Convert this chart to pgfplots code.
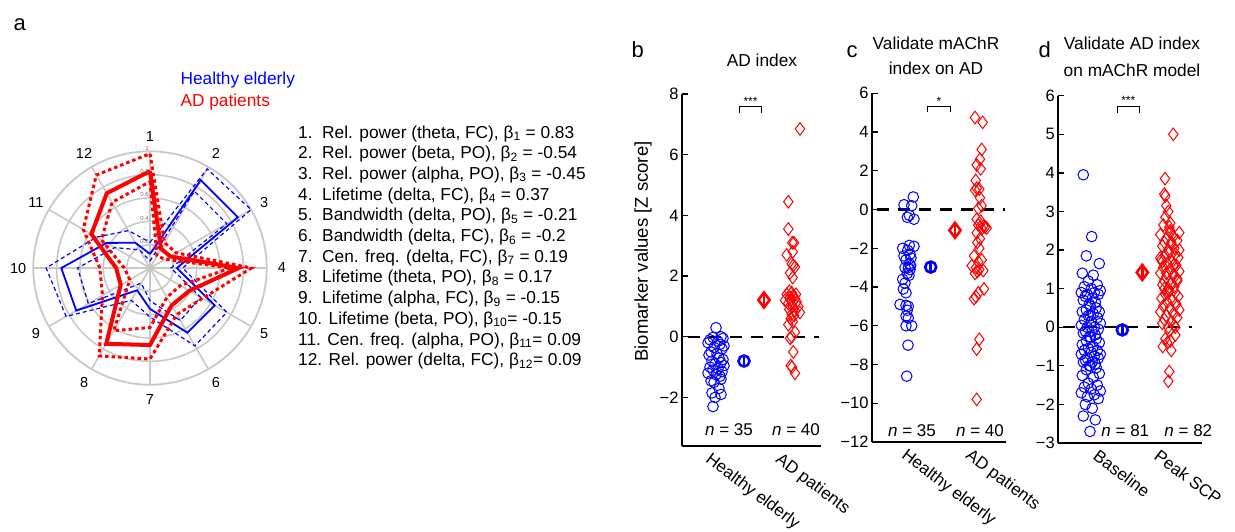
\documentclass[border=0pt]{standalone}
\usepackage{fontspec}
\setmainfont{Liberation Sans}
\usepackage{pgfplots}
\pgfplotsset{compat=1.18}
\usepgfplotslibrary{polar}
\definecolor{gridgray}{RGB}{200,200,200}
\definecolor{ringlab}{RGB}{110,110,110}
\pgfplotsset{
 scat/.style={
  scale only axis, clip=false,
  axis lines*=left,
  axis line style={line width=2.2pt,-},
  tick align=inside,
  major tick length=6pt,
  ytick style={line width=1.3pt, black},
  xtick style={draw=none},
  xticklabel style={rotate=-37, anchor=north west, font=\fontsize{17}{17}\selectfont, inner sep=1pt, yshift=-5pt},
  yticklabel style={font=\fontsize{16.5}{16.5}\selectfont, xshift=0pt},
 },
 hmark/.style={only marks, mark=o, blue, mark size=5.3pt, mark options={line width=1pt}},
 amark/.style={only marks, mark=diamond, red, mark size=6.3pt, mark options={line width=1pt}},
 hmean/.style={only marks, mark=o, blue, mark size=5.5pt, mark options={line width=2.6pt},
   error bars/.cd, y dir=both, y explicit, error mark=none, error bar style={line width=2.6pt, blue}},
 amean/.style={only marks, mark=diamond, red, mark size=7.5pt, mark options={line width=2.6pt},
   error bars/.cd, y dir=both, y explicit, error mark=none, error bar style={line width=2.6pt, red}},
 zline/.style={black, line width=2.2pt, dash pattern=on 12pt off 9pt},
}
\newcommand{\nfont}{\fontsize{17}{17}\selectfont}
\newcommand{\lfont}{\fontsize{17.3}{20.7}\selectfont}
\begin{document}
\begin{tikzpicture}[x=1pt,y=1pt]
\path[use as bounding box] (0,0) rectangle (1235,-531);

% ---------------- panel a ----------------
\node[anchor=base west, font=\fontsize{22}{22}\selectfont] at (10,-30) {a};
\node[anchor=base west, font=\lfont, text=blue] at (177,-84) {Healthy elderly};
\node[anchor=base west, font=\lfont, text=red] at (177,-106) {AD patients};

\begin{polaraxis}[
 scale only axis, width=233.4pt, height=233.4pt,
 at={(150pt,-268pt)}, anchor=center,
 ymin=0, ymax=1,
 xtick={0,30,...,330}, xticklabels={},
 ytick={0.2,0.4,0.6,0.8}, yticklabels={},
 grid=major, major grid style={draw=gridgray, line width=1.6pt},
 axis line style={draw=gridgray, line width=1.8pt},
 major tick length=0pt,
 clip=false,
]
% blue: healthy elderly
\addplot[blue, line width=1.2pt, dash pattern=on 4pt off 3pt] coordinates {
 (90,0.22) (60,0.98) (30,1.00) (0,0.28) (330,0.76) (300,0.77) (270,0.42) (240,0.32) (210,0.83) (180,0.89) (150,0.53) (120,0.37) (90,0.22)};
\addplot[blue, line width=1.2pt, dash pattern=on 4pt off 3pt] coordinates {
 (90,0.06) (60,0.76) (30,0.76) (0,0.18) (330,0.50) (300,0.52) (270,0.28) (240,0.15) (210,0.61) (180,0.62) (150,0.35) (120,0.18) (90,0.06)};
\addplot[blue, line width=1.8pt] coordinates {
 (90,0.12) (60,0.87) (30,0.87) (0,0.23) (330,0.64) (300,0.64) (270,0.35) (240,0.22) (210,0.73) (180,0.76) (150,0.43) (120,0.25) (90,0.12)};
% red: AD patients
\addplot[red, line width=3pt, dash pattern=on 3.5pt off 3pt] coordinates {
 (90,0.98) (60,0.25) (30,0.26) (0,0.87) (330,0.52) (300,0.46) (270,0.78) (240,0.87) (210,0.47) (180,0.43) (150,0.66) (120,0.92) (90,0.98)};
\addplot[red, line width=3pt, dash pattern=on 3.5pt off 3pt] coordinates {
 (90,0.74) (60,0.12) (30,0.15) (0,0.69) (330,0.30) (300,0.29) (270,0.51) (240,0.62) (210,0.20) (180,0.22) (150,0.48) (120,0.65) (90,0.74)};
\addplot[red, line width=4pt] coordinates {
 (90,0.83) (60,0.19) (30,0.20) (0,0.76) (330,0.39) (300,0.37) (270,0.66) (240,0.75) (210,0.29) (180,0.29) (150,0.58) (120,0.74) (90,0.83)};
% ring labels
\foreach \r/\t in {0.2/0.2,0.4/0.4,0.6/0.6,0.8/0.8,1/1}{
 \edef\tmp{\noexpand\node[anchor=south east, inner sep=1pt, font=\noexpand\fontsize{6}{6}\noexpand\selectfont, text=ringlab] at (axis cs:90,\r) {\t};}\tmp
}
% spoke labels
\foreach \a/\t in {90/1,60/2,30/3,0/4,330/5,300/6,270/7,240/8,210/9,180/10,150/11,120/12}{
 \edef\tmp{\noexpand\node[font=\noexpand\fontsize{14.5}{14.5}\noexpand\selectfont] at (axis cs:\a,1.13) {\t};}\tmp
}
\end{polaraxis}

% list of features
\foreach \i/\t in {
 1/{1.\ \ Rel. power (theta, FC), β\textsubscript{1} = 0.83},
 2/{2.\ \ Rel. power (beta, PO), β\textsubscript{2} = -0.54},
 3/{3.\ \ Rel. power (alpha, PO), β\textsubscript{3} = -0.45},
 4/{4.\ \ Lifetime (delta, FC), β\textsubscript{4} = 0.37},
 5/{5.\ \ Bandwidth (delta, PO), β\textsubscript{5} = -0.21},
 6/{6.\ \ Bandwidth (delta, FC), β\textsubscript{6} = -0.2},
 7/{7.\ \ Cen. freq. (delta, FC), β\textsubscript{7} = 0.19},
 8/{8.\ \ Lifetime (theta, PO), β\textsubscript{8} = 0.17},
 9/{9.\ \ Lifetime (alpha, FC), β\textsubscript{9} = -0.15},
 10/{10. Lifetime (beta, PO), β\textsubscript{10}= -0.15},
 11/{11. Cen. freq. (alpha, PO), β\textsubscript{11}= 0.09},
 12/{12. Rel. power (delta, FC), β\textsubscript{12}= 0.09}}{
 \node[anchor=base west, font=\lfont, inner sep=0pt] at (298,{-138-20.7*(\i-1)}) {\t};
}

% ---------------- panel b ----------------
\node[anchor=base west, font=\fontsize{22}{22}\selectfont] at (628,-57) {b};
\node[anchor=base, font=\lfont] at (762,-66) {AD index};
\node[rotate=90, font=\fontsize{18.5}{18.5}\selectfont] at (643,-251.5) {Biomarker values [Z score]};
\begin{axis}[scat, width=139pt, height=352pt, at={(682pt,-446pt)}, anchor=south west,
 xmin=0, xmax=139, ymin=-3.6, ymax=8,
 ytick={-2,0,2,4,6,8}, yticklabels={−2,0,2,4,6,8},
 xtick={33,103}, xticklabels={Healthy elderly, AD patients}]
\addplot[zline] coordinates {(6,0) (137,0)};
\addplot[hmark] coordinates {
 (34,0.3) (39,0.0) (31,-0.02) (41,-0.05) (28,-0.1) (36,-0.15) (26,-0.2) (38,-0.25) (42,-0.3) (32,-0.35)
 (40,-0.4) (29,-0.5) (35,-0.55) (27,-0.6) (37,-0.7) (41,-0.75) (30,-0.8) (39,-0.85) (33,-0.9) (42,-0.95)
 (28,-1.0) (36,-1.05) (31,-1.1) (40,-1.15) (26,-1.2) (34,-1.25) (38,-1.3) (39,-1.4) (29,-1.45) (32,-1.5)
 (37,-1.7) (30,-1.85) (39,-1.9) (33,-2.0) (31,-2.3)};
\addplot[amark] coordinates {
 (118,6.85) (106.3,4.45) (106.3,3.55) (110.3,3.1) (112,3.1) (110.7,2.8) (104.7,2.7) (109.7,2.4) (111.3,2.35) (113,2.3)
 (108,2.1) (110.7,1.95) (107.3,1.5) (109.7,1.45) (104.7,1.4) (114,1.4) (111.3,1.35) (108,1.3) (113,1.25) (103,1.2)
 (108.7,1.2) (114.7,1.15) (106.3,1.1) (110.7,1.0) (116.3,1.0) (107.3,0.9) (113,0.85) (118,0.8) (109.7,0.75) (112,0.7)
 (108.7,0.6) (106.3,0.4) (113,0.15) (109.7,0.0) (108,-0.05) (111.3,-0.5) (108.7,-0.95) (110,-1.0) (113,-1.2) (110.7,0.5)};
\addplot[hmean] coordinates {(62,-0.8) +- (0,0.2)};
\addplot[amean] coordinates {(82,1.21) +- (0,0.26)};
\draw[line width=0.9pt] (axis cs:57.3,7.39) -- (axis cs:57.3,7.59) -- (axis cs:79.7,7.59) -- (axis cs:79.7,7.39);
\node[anchor=base, inner sep=0pt, font=\fontsize{12}{12}\selectfont] at (axis cs:68.5,7.62) {***};
\node[font=\nfont] at (axis cs:47,-3.07) {\textit{n} = 35};
\node[font=\nfont] at (axis cs:114,-3.07) {\textit{n} = 40};
\end{axis}

% ---------------- panel c ----------------
\node[anchor=base west, font=\fontsize{22}{22}\selectfont] at (843,-57) {c};
\node[anchor=base, font=\lfont] at (936,-49) {Validate mAChR};
\node[anchor=base, font=\lfont] at (936,-74) {index on AD};
\begin{axis}[scat, width=133.5pt, height=348.7pt, at={(872pt,-442pt)}, anchor=south west,
 xmin=0, xmax=133.5, ymin=-12, ymax=6,
 ytick={-12,-10,-8,-6,-4,-2,0,2,4,6}, yticklabels={−12,−10,−8,−6,−4,−2,0,2,4,6},
 xtick={39,103}, xticklabels={Healthy elderly, AD patients}]
\addplot[zline] coordinates {(5,0) (133,0)};
\addplot[hmark] coordinates {
 (41.3,0.65) (32,0.25) (39.7,0.2) (37.3,-0.3) (35.3,-0.4) (42,-0.5) (37.3,-1.85) (42,-1.9) (30.7,-2.0) (35.7,-2.1)
 (38,-2.3) (32,-2.4) (39,-2.5) (34,-2.6) (37.3,-2.8) (38.7,-2.9) (36.3,-3.0) (33,-3.0) (38,-3.1) (35.3,-3.3)
 (37,-3.4) (30.7,-3.6) (33,-3.8) (31.3,-4.1) (34,-4.3) (28,-4.9) (34,-4.95) (36.3,-5.0) (35.3,-5.2) (34,-5.5)
 (36.3,-5.6) (34,-6.0) (39.7,-6.0) (36,-7.0) (34.7,-8.6)};
\addplot[amark] coordinates {
 (103,4.75) (110.7,4.5) (109.7,3.1) (108,2.6) (104.7,2.3) (108.7,2.1) (103.7,1.5) (104.7,1.1) (107.3,1.05) (103,1.0)
 (108,0.6) (109.7,0.2) (106.3,0.05) (104.7,-0.5) (108.7,-0.6) (106.3,-0.8) (111.3,-0.85) (113,-0.9) (109.7,-1.0) (104.7,-1.2)
 (108,-1.5) (105.3,-1.7) (107.3,-2.0) (102,-2.4) (109.7,-2.6) (106.3,-2.7) (99.7,-2.9) (104,-3.0) (107.3,-3.1) (111.3,-3.15)
 (105.3,-3.2) (103,-3.3) (112,-4.1) (106.3,-4.3) (104,-4.5) (102,-4.6) (107.3,-6.7) (104.7,-7.2) (104.7,-9.8) (114.7,-0.95)};
\addplot[hmean] coordinates {(58.7,-2.97) +- (0,0.3)};
\addplot[amean] coordinates {(83,-1.07) +- (0,0.38)};
\draw[line width=0.9pt] (axis cs:55.7,5.02) -- (axis cs:55.7,5.34) -- (axis cs:78.3,5.34) -- (axis cs:78.3,5.02);
\node[anchor=base, inner sep=0pt, font=\fontsize{12}{12}\selectfont] at (axis cs:67,5.39) {*};
\node[font=\nfont] at (axis cs:40,-11.41) {\textit{n} = 35};
\node[font=\nfont] at (axis cs:108,-11.41) {\textit{n} = 40};
\end{axis}

% ---------------- panel d ----------------
\node[anchor=base west, font=\fontsize{22}{22}\selectfont] at (1035,-57) {d};
\node[anchor=base, font=\lfont] at (1132,-49) {Validate AD index};
\node[anchor=base, font=\lfont] at (1132,-76) {on mAChR model};
\begin{axis}[scat, width=144pt, height=347.3pt, at={(1058.3pt,-443pt)}, anchor=south west,
 xmin=0, xmax=144, ymin=-3, ymax=6,
 ytick={-3,-2,-1,0,1,2,3,4,5,6}, yticklabels={−3,−2,−1,0,1,2,3,4,5,6},
 xtick={44,105}, xticklabels={Baseline, Peak SCP}]
\addplot[zline] coordinates {(5,0) (134,0)};
\addplot[hmark] coordinates {
 (25,3.95) (33.4,2.35) (28,1.85) (41,1.65) (24,1.4) (35,1.35) (30,1.2) (39,1.1) (26,1.05) (33,1.0)
 (42,0.95) (23,0.9) (36,0.9) (29,0.85) (40,0.85) (27,0.8) (34,0.75) (25,0.7) (37,0.65) (31,0.6)
 (32,0.55) (38,0.5) (28,0.45) (41,0.4) (24,0.4) (35,0.35) (30,0.3) (39,0.25) (26,0.2) (33,0.15)
 (42,0.1) (23,0.05) (36,0.0) (29,0.0) (40,-0.05) (27,-0.1) (34,-0.1) (25,-0.15) (37,-0.2) (31,-0.25)
 (32,-0.25) (38,-0.3) (28,-0.35) (41,-0.4) (24,-0.45) (35,-0.5) (30,-0.55) (39,-0.6) (26,-0.6) (33,-0.65)
 (42,-0.7) (23,-0.7) (36,-0.75) (29,-0.8) (40,-0.8) (27,-0.85) (34,-0.9) (25,-0.9) (37,-0.95) (31,-1.0)
 (32,-1.0) (38,-1.05) (28,-1.1) (41,-1.2) (24,-1.25) (35,-1.3) (30,-1.45) (39,-1.5) (26,-1.55) (33,-1.6)
 (42,-1.65) (23,-1.7) (36,-1.75) (29,-1.8) (40,-1.85) (27,-2.0) (34,-2.1) (25,-2.3) (37,-2.4) (31.7,-2.7)
 (32,0.3)};
\addplot[amark] coordinates {
 (115,5.0) (106.7,3.85) (106,3.45) (107,3.4) (108,3.15) (110,3.0) (107,2.85) (112,2.7) (105,2.65) (112,2.5)
 (121,2.45) (102,2.4) (115,2.35) (108,2.3) (119,2.25) (106,2.2) (113,2.15) (104,2.1) (116,2.05) (110,2.0)
 (111,1.95) (117,1.9) (107,1.85) (120,1.8) (103,1.75) (114,1.7) (109,1.65) (118,1.6) (105,1.55) (112,1.5)
 (121,1.45) (102,1.4) (115,1.35) (108,1.3) (119,1.25) (106,1.2) (113,1.15) (104,1.1) (116,1.05) (110,1.0)
 (111,0.95) (117,0.9) (107,0.85) (120,0.8) (103,0.75) (114,0.7) (109,0.65) (118,0.6) (105,0.55) (112,0.5)
 (121,0.45) (102,0.4) (115,0.35) (108,0.3) (119,0.25) (106,0.2) (113,0.15) (104,0.1) (116,0.05) (110,0.0)
 (111,-0.1) (117,-0.2) (107,-0.3) (112,-0.35) (109,-0.4) (104.4,-0.5) (113,-0.6) (111,-1.15) (110,-1.4) (112,2.45)
 (121,2.0) (102,1.8) (115,1.6) (108,1.4) (119,1.2) (106,1.0) (113,2.2) (104,1.7) (116,1.3) (110,0.9)
 (111,2.6) (117,0.0)};
\addplot[hmean] coordinates {(64,-0.07) +- (0,0.15)};
\addplot[amean] coordinates {(84,1.42) +- (0,0.19)};
\draw[line width=0.9pt] (axis cs:59,5.56) -- (axis cs:59,5.73) -- (axis cs:81,5.73) -- (axis cs:81,5.56);
\node[anchor=base, inner sep=0pt, font=\fontsize{12}{12}\selectfont] at (axis cs:70,5.76) {***};
\node[font=\nfont] at (axis cs:67,-2.67) {\textit{n} = 81};
\node[font=\nfont] at (axis cs:130,-2.67) {\textit{n} = 82};
\end{axis}
\end{tikzpicture}
\end{document}
